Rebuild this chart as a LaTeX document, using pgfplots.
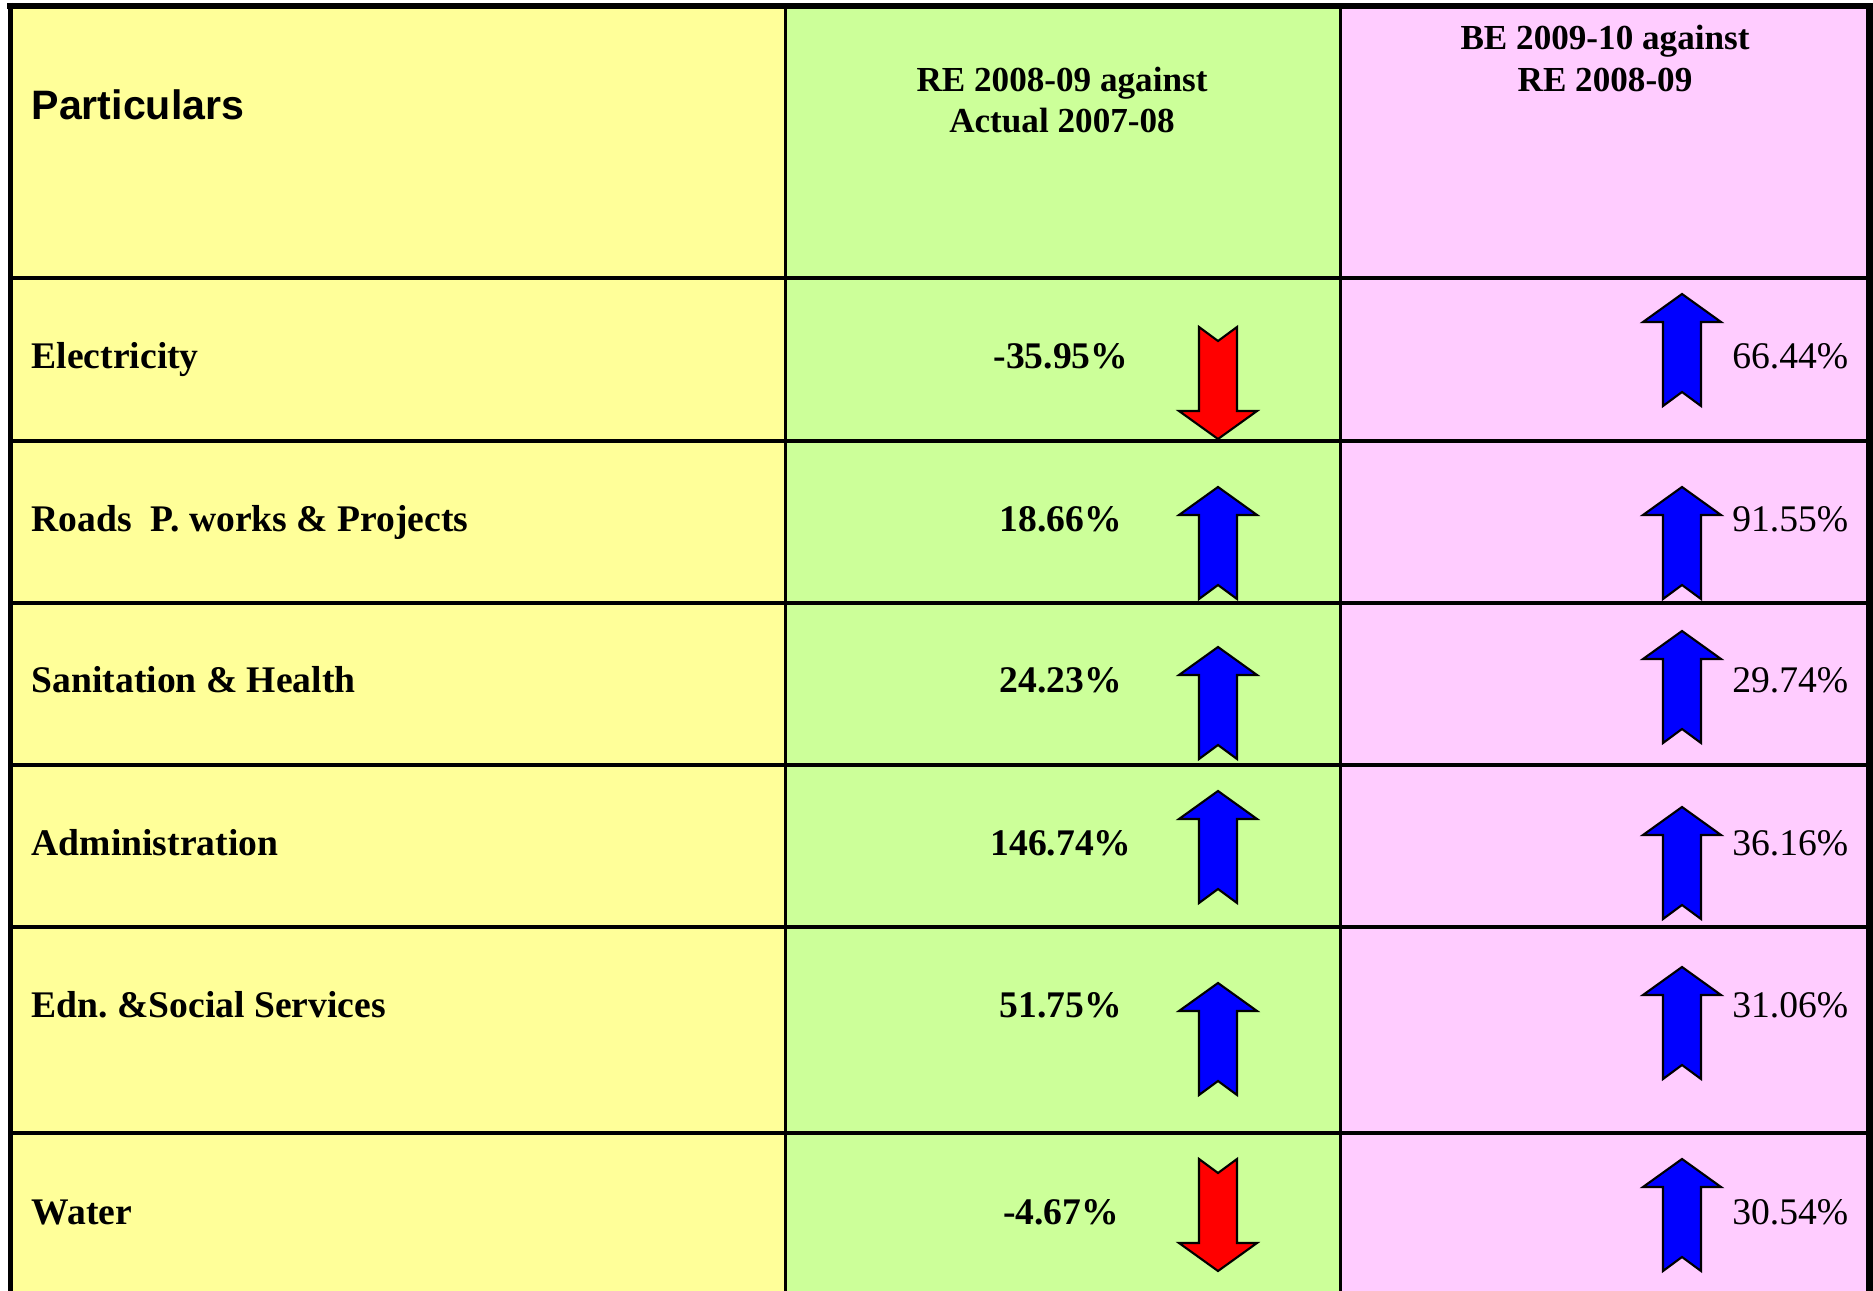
\documentclass[border=0pt]{standalone}
\usepackage{pgfplots}
\pgfplotsset{compat=1.18}
\usepackage{fontspec}
\setmainfont{Liberation Serif}
\newfontfamily\arialfont{Liberation Sans}
\definecolor{cyellow}{HTML}{FFFF99}
\definecolor{cgreen}{HTML}{CCFF99}
\definecolor{cpink}{HTML}{FFCCFF}
\definecolor{cblue}{HTML}{0000FF}
\definecolor{cred}{HTML}{FF0000}
\frenchspacing
\tikzset{
  body/.style={font=\fontsize{10.7}{12.8}\selectfont, inner sep=0pt},
  bbody/.style={font=\fontsize{10.7}{12.8}\selectfont\bfseries, inner sep=0pt},
  head/.style={font=\fontsize{10}{12}\selectfont\bfseries, inner sep=0pt},
  uparrow/.style={fill=cblue, draw=black, line width=0.6pt},
  downarrow/.style={fill=cred, draw=black, line width=0.6pt},
}
\begin{document}
\begin{tikzpicture}
\begin{axis}[
  scale only axis, width=187.3mm, height=129.1mm,
  xmin=0, xmax=1873, ymin=0, ymax=1291, y dir=reverse,
  hide axis, clip=true,
  every axis plot/.append style={line join=miter},
]
% background and cell fills
\addplot[fill=white, draw=none] coordinates {(0,0)(1873,0)(1873,1291)(0,1291)} --cycle;
\addplot[fill=cyellow, draw=none] coordinates {(10,6)(785,6)(785,1291)(10,1291)} --cycle;
\addplot[fill=cgreen, draw=none] coordinates {(785,6)(1340,6)(1340,1291)(785,1291)} --cycle;
\addplot[fill=cpink, draw=none] coordinates {(1340,6)(1870,6)(1870,1291)(1340,1291)} --cycle;
% grid lines
\addplot[draw=black, line width=0.9pt] coordinates {(10,278)(1870,278)};
\addplot[draw=black, line width=0.9pt] coordinates {(10,441)(1870,441)};
\addplot[draw=black, line width=0.9pt] coordinates {(10,603)(1870,603)};
\addplot[draw=black, line width=0.9pt] coordinates {(10,765)(1870,765)};
\addplot[draw=black, line width=0.9pt] coordinates {(10,927)(1870,927)};
\addplot[draw=black, line width=0.9pt] coordinates {(10,1133)(1870,1133)};
\addplot[draw=black, line width=0.85pt] coordinates {(785,6)(785,1291)};
\addplot[draw=black, line width=0.85pt] coordinates {(1340,6)(1340,1291)};
% outer border
\addplot[draw=black, line width=1.7pt] coordinates {(7,6)(1873,6)};
\addplot[draw=black, line width=1.6pt] coordinates {(10.5,3)(10.5,1291)};
\addplot[draw=black, line width=2.2pt] coordinates {(1870,3)(1870,1291)};
% arrows: column RE 2008-09 against Actual 2007-08
\addplot[downarrow] coordinates {(1199,327)(1218,341)(1237,327)(1237,411)(1257,411)(1218,439)(1179,411)(1199,411)} --cycle;
\addplot[uparrow] coordinates {(1218,487)(1257,515)(1237,515)(1237,599)(1218,585)(1199,599)(1199,515)(1179,515)} --cycle;
\addplot[uparrow] coordinates {(1218,647)(1257,675)(1237,675)(1237,759)(1218,745)(1199,759)(1199,675)(1179,675)} --cycle;
\addplot[uparrow] coordinates {(1218,791)(1257,819)(1237,819)(1237,903)(1218,889)(1199,903)(1199,819)(1179,819)} --cycle;
\addplot[uparrow] coordinates {(1218,983)(1257,1011)(1237,1011)(1237,1095)(1218,1081)(1199,1095)(1199,1011)(1179,1011)} --cycle;
\addplot[downarrow] coordinates {(1199,1159)(1218,1173)(1237,1159)(1237,1243)(1257,1243)(1218,1271)(1179,1243)(1199,1243)} --cycle;
% arrows: column BE 2009-10 against RE 2008-09
\addplot[uparrow] coordinates {(1682,294)(1721,322)(1701,322)(1701,406)(1682,392)(1663,406)(1663,322)(1643,322)} --cycle;
\addplot[uparrow] coordinates {(1682,487)(1721,515)(1701,515)(1701,599)(1682,585)(1663,599)(1663,515)(1643,515)} --cycle;
\addplot[uparrow] coordinates {(1682,631)(1721,659)(1701,659)(1701,743)(1682,729)(1663,743)(1663,659)(1643,659)} --cycle;
\addplot[uparrow] coordinates {(1682,807)(1721,835)(1701,835)(1701,919)(1682,905)(1663,919)(1663,835)(1643,835)} --cycle;
\addplot[uparrow] coordinates {(1682,967)(1721,995)(1701,995)(1701,1079)(1682,1065)(1663,1079)(1663,995)(1643,995)} --cycle;
\addplot[uparrow] coordinates {(1682,1159)(1721,1187)(1701,1187)(1701,1271)(1682,1257)(1663,1271)(1663,1187)(1643,1187)} --cycle;
% header texts
\node[anchor=base west, inner sep=0pt, font=\fontsize{11.7}{14}\selectfont\arialfont\bfseries] at (axis cs:31,120) {Particulars};
\node[head, anchor=base] at (axis cs:1062,92) {RE 2008-09 against};
\node[head, anchor=base] at (axis cs:1062,133) {Actual 2007-08};
\node[head, anchor=base] at (axis cs:1605,50) {BE 2009-10 against};
\node[head, anchor=base] at (axis cs:1605,92) {RE 2008-09};
% row labels
\node[bbody, anchor=base west] at (axis cs:31,369) {Electricity};
\node[bbody, anchor=base west] at (axis cs:31,531) {Roads\ \ P. works \& Projects};
\node[bbody, anchor=base west] at (axis cs:31,693) {Sanitation \& Health};
\node[bbody, anchor=base west] at (axis cs:31,855) {Administration};
\node[bbody, anchor=base west] at (axis cs:31,1017) {Edn. \&Social Services};
\node[bbody, anchor=base west] at (axis cs:31,1224) {Water};
% RE 2008-09 against Actual 2007-08 values
\node[bbody, anchor=base] at (axis cs:1061,369) {-35.95\%};
\node[bbody, anchor=base] at (axis cs:1061,531) {18.66\%};
\node[bbody, anchor=base] at (axis cs:1061,693) {24.23\%};
\node[bbody, anchor=base] at (axis cs:1061,855) {146.74\%};
\node[bbody, anchor=base] at (axis cs:1061,1017) {51.75\%};
\node[bbody, anchor=base] at (axis cs:1061,1224) {-4.67\%};
% BE 2009-10 against RE 2008-09 values
\node[body, anchor=base east] at (axis cs:1849,369) {66.44\%};
\node[body, anchor=base east] at (axis cs:1849,531) {91.55\%};
\node[body, anchor=base east] at (axis cs:1849,693) {29.74\%};
\node[body, anchor=base east] at (axis cs:1849,855) {36.16\%};
\node[body, anchor=base east] at (axis cs:1849,1017) {31.06\%};
\node[body, anchor=base east] at (axis cs:1849,1224) {30.54\%};
\end{axis}
\end{tikzpicture}
\end{document}
